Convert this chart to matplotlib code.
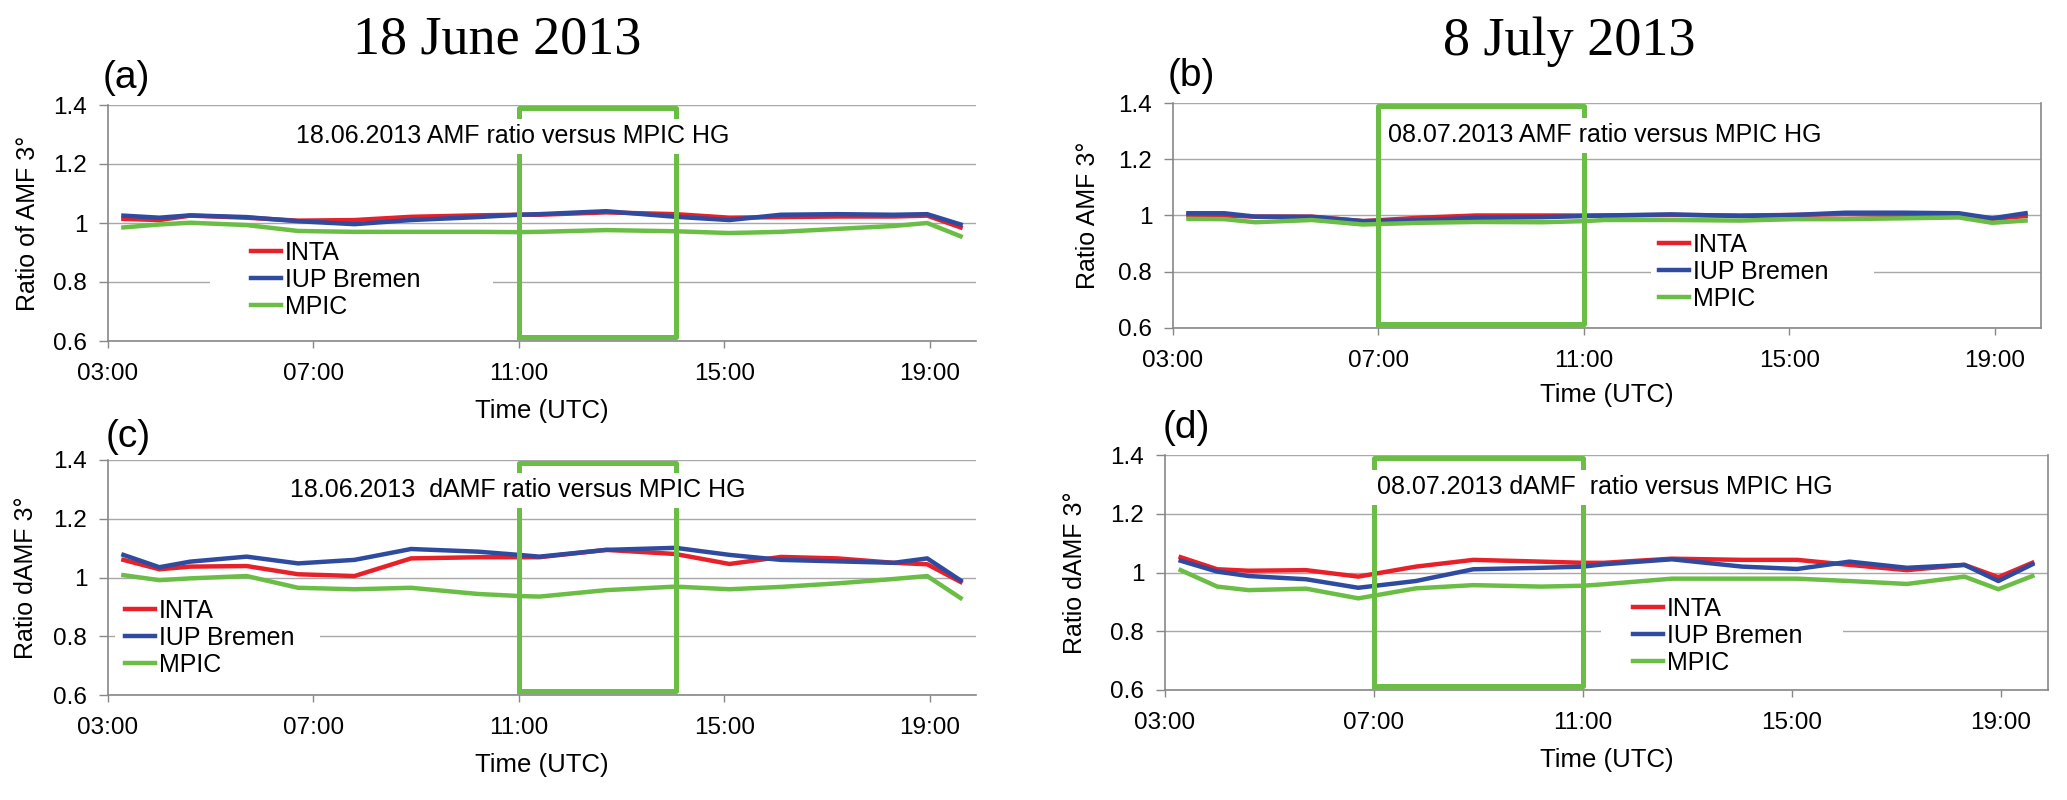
import matplotlib.pyplot as plt
from matplotlib.patches import Rectangle

# time of each measurement (UTC hours), same sampling for all panels
hours = [3.3, 4.0, 4.6, 5.7, 6.7, 7.8, 8.9, 10.2, 11.0, 11.4, 12.7, 14.05, 15.1, 16.1, 17.2, 18.3, 18.95, 19.6]

# (a) 18.06.2013 AMF ratio
inta_a = [1.014, 1.010, 1.025, 1.018, 1.008, 1.010, 1.021, 1.026, 1.028, 1.028, 1.036, 1.030, 1.018, 1.020, 1.022, 1.022, 1.025, 0.985]
iup_a = [1.025, 1.018, 1.026, 1.020, 1.006, 0.996, 1.010, 1.020, 1.028, 1.030, 1.040, 1.021, 1.010, 1.028, 1.030, 1.028, 1.030, 0.995]
mpic_a = [0.985, 0.995, 1.001, 0.993, 0.973, 0.970, 0.970, 0.970, 0.969, 0.970, 0.976, 0.972, 0.966, 0.970, 0.980, 0.990, 1.000, 0.955]

# (b) 08.07.2013 AMF ratio
inta_b = [1.000, 1.000, 0.996, 0.996, 0.980, 0.992, 1.000, 1.000, 1.000, 1.000, 1.002, 1.000, 1.002, 1.005, 1.002, 1.005, 0.988, 0.998]
iup_b = [1.008, 1.008, 0.996, 0.995, 0.980, 0.983, 0.992, 0.994, 0.998, 1.000, 1.004, 0.998, 1.002, 1.010, 1.010, 1.008, 0.990, 1.008]
mpic_b = [0.988, 0.987, 0.976, 0.984, 0.968, 0.974, 0.977, 0.976, 0.980, 0.984, 0.984, 0.982, 0.987, 0.987, 0.990, 0.993, 0.974, 0.982]

# (c) 18.06.2013 dAMF ratio
inta_c = [1.060, 1.028, 1.037, 1.039, 1.011, 1.005, 1.065, 1.069, 1.069, 1.069, 1.094, 1.080, 1.046, 1.070, 1.065, 1.050, 1.045, 0.985]
iup_c = [1.077, 1.035, 1.054, 1.071, 1.048, 1.060, 1.097, 1.088, 1.077, 1.071, 1.094, 1.101, 1.077, 1.060, 1.055, 1.050, 1.065, 0.990]
mpic_c = [1.008, 0.991, 0.997, 1.005, 0.965, 0.960, 0.965, 0.944, 0.937, 0.935, 0.957, 0.969, 0.960, 0.968, 0.980, 0.995, 1.005, 0.930]

# (d) 08.07.2013 dAMF ratio
inta_d = [1.052, 1.011, 1.006, 1.008, 0.986, 1.020, 1.043, 1.037, 1.033, 1.033, 1.047, 1.043, 1.043, 1.026, 1.008, 1.026, 0.984, 1.033]
iup_d = [1.040, 1.003, 0.988, 0.977, 0.948, 0.971, 1.011, 1.016, 1.020, 1.028, 1.045, 1.020, 1.012, 1.037, 1.016, 1.026, 0.971, 1.028]
mpic_d = [1.008, 0.952, 0.940, 0.945, 0.912, 0.946, 0.957, 0.952, 0.955, 0.960, 0.979, 0.979, 0.979, 0.971, 0.961, 0.986, 0.943, 0.988]

# green boxes marking the selected time window
box_june = [11.0, 14.05]
box_july = [7.0, 11.0]
box_y = [0.615, 1.39]

series_names = ['INTA', 'IUP Bremen', 'MPIC']
xticks = [3, 7, 11, 15, 19]
xtick_labels = ['03:00', '07:00', '11:00', '15:00', '19:00']
yticks = [0.6, 0.8, 1.0, 1.2, 1.4]
ytick_labels = ['0.6', '0.8', '1', '1.2', '1.4']

RED = '#e8202a'
BLUE = '#2f4b9f'
GREEN = '#6abd45'

W, H = 2067, 800
plt.rcParams['font.family'] = ['Liberation Sans', 'DejaVu Sans']
fig = plt.figure(figsize=(W / 100, H / 100), dpi=100)


def px_axes(l, r, t, b):
    return fig.add_axes([l / W, 1 - b / H, (r - l) / W, (b - t) / H])


def panel(ax, series, box, ylabel, ylab_x, note, note_xy, leg_xy, leg_rect, right_spine):
    ax.set_xlim(3, 19.9)
    ax.set_ylim(0.6, 1.4)
    ax.set_xticks(xticks)
    ax.set_xticklabels(xtick_labels)
    ax.set_yticks(yticks)
    ax.set_yticklabels(ytick_labels)
    ax.tick_params(axis='x', direction='out', length=5, width=1, color='#888888', labelsize=17.5, pad=11)
    ax.tick_params(axis='y', direction='out', length=6.5, width=1, color='#888888', labelsize=17.5, pad=8.5)
    ax.yaxis.grid(True, color='#a8a8a8', linewidth=1.0)
    ax.set_axisbelow(True)
    for s in ['top', 'right']:
        ax.spines[s].set_visible(False)
    if right_spine:
        ax.spines['right'].set_visible(True)
    for s in ['left', 'bottom', 'right']:
        ax.spines[s].set_color('#888888')
        ax.spines[s].set_linewidth(1.2)

    ax.add_patch(Rectangle((leg_rect[0], leg_rect[1]), leg_rect[2] - leg_rect[0], leg_rect[3] - leg_rect[1],
                           transform=ax.transAxes, facecolor='white', edgecolor='none', zorder=1.5))

    for vals, c, name in zip(series, [RED, BLUE, GREEN], series_names):
        ax.plot(hours, vals, color=c, linewidth=3.2, label=name, zorder=2, solid_joinstyle='round')

    ax.plot([box[0], box[0], box[1], box[1], box[0]],
            [box_y[0], box_y[1], box_y[1], box_y[0], box_y[0]],
            color=GREEN, linewidth=3.6, zorder=3, clip_on=False)

    ax.text(note_xy[0] / W, 1 - note_xy[1] / H, note, transform=fig.transFigure, fontsize=18,
            ha='center', va='center', zorder=4,
            bbox=dict(boxstyle='square,pad=0.22', facecolor='white', edgecolor='none'))

    ax.legend(loc='center left', bbox_to_anchor=(leg_xy[0] / W, 1 - leg_xy[1] / H),
              bbox_transform=fig.transFigure, frameon=False, fontsize=18, borderpad=0,
              borderaxespad=0, handlelength=1.2, handletextpad=0.15, labelspacing=0.12)

    ax.set_xlabel('Time (UTC)', fontsize=18.5)
    ax.xaxis.set_label_coords(0.5, -0.245)
    ax.set_ylabel(ylabel, fontsize=18)
    ax.yaxis.set_label_coords(ylab_x, 0.5)


ax_a = px_axes(108, 976, 105, 341)
panel(ax_a, [inta_a, iup_a, mpic_a], box_june, 'Ratio of AMF 3°', -0.078,
      '18.06.2013 AMF ratio versus MPIC HG', (513, 136), (251, 280), (0.1175, 0.08, 0.4435, 0.44), False)

ax_b = px_axes(1173, 2041, 103, 328)
panel(ax_b, [inta_b, iup_b, mpic_b], box_july, 'Ratio AMF 3°', -0.084,
      '08.07.2013 AMF ratio versus MPIC HG', (1605, 135), (1659, 272), (0.551, 0.067, 0.808, 0.44), True)

ax_c = px_axes(108, 976, 460, 695)
panel(ax_c, [inta_c, iup_c, mpic_c], box_june, 'Ratio dAMF 3°', -0.081,
      '18.06.2013  dAMF ratio versus MPIC HG', (518, 490), (125, 638), (0.008, 0.06, 0.244, 0.43), False)

ax_d = px_axes(1165, 2048, 455, 690)
panel(ax_d, [inta_d, iup_d, mpic_d], box_july, 'Ratio dAMF 3°', -0.088,
      '08.07.2013 dAMF  ratio versus MPIC HG', (1605, 487), (1633, 636), (0.494, 0.043, 0.768, 0.413), True)

# day titles and panel letters
fig.text(497 / W, 1 - 54 / H, '18 June 2013', fontsize=39, family='Liberation Serif', ha='center', va='baseline')
fig.text(1569 / W, 1 - 55 / H, '8 July 2013', fontsize=39, family='Liberation Serif', ha='center', va='baseline')
fig.text(103 / W, 1 - 78 / H, '(a)', fontsize=28, ha='left', va='center')
fig.text(1168 / W, 1 - 76 / H, '(b)', fontsize=28, ha='left', va='center')
fig.text(106 / W, 1 - 437 / H, '(c)', fontsize=28, ha='left', va='center')
fig.text(1163 / W, 1 - 428 / H, '(d)', fontsize=28, ha='left', va='center')

fig.savefig('out.png', dpi=100)
